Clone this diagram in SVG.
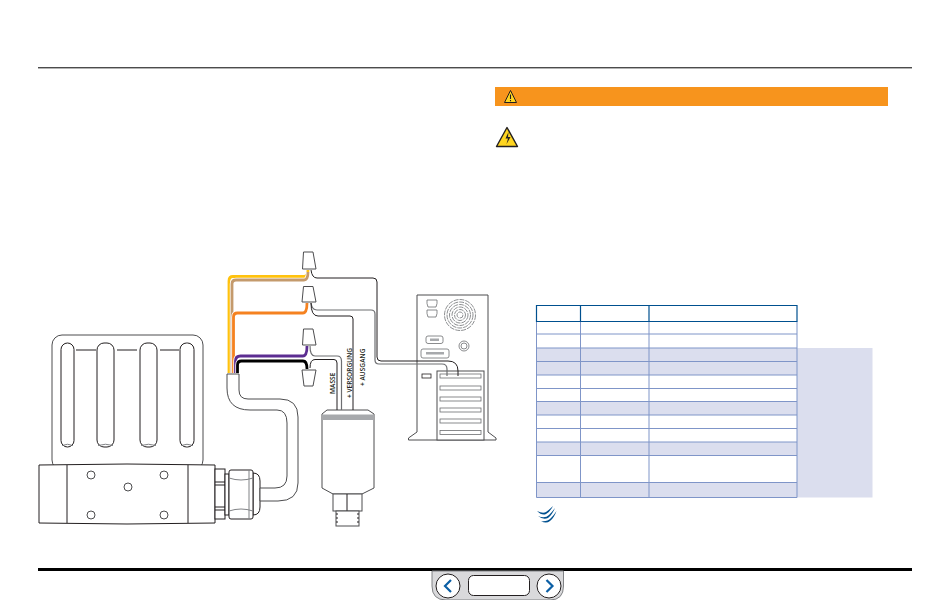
<svg xmlns="http://www.w3.org/2000/svg" width="950" height="600" viewBox="0 0 950 600">
<style>
.o{fill:#fff;stroke:#231f20;stroke-width:1}
.g{fill:#fff;stroke:#4d4d4f;stroke-width:1}
.n{fill:none;stroke:#231f20;stroke-width:1}
.gw{fill:none;stroke:#6d6e71;stroke-width:1.2}
.h{fill:none;stroke:#fff;stroke-width:4.4}
.w{fill:none;stroke-width:2.8}
.lb{font-family:"Open Sans","Liberation Sans",sans-serif;font-size:6.6px;font-weight:600;fill:#231f20}
.tr{fill:none;stroke:#7f95c8;stroke-width:1}
.th{fill:none;stroke:#00508f;stroke-width:1.2}
.sh{fill:#dbdeee}
.sw{fill:#00508f;stroke:none}
</style>
<rect width="950" height="600" fill="#fff"/>
<g id="page-frame">
<line x1="38" y1="67.800" x2="912" y2="67.800" stroke="#000" stroke-width="1"/>
<line x1="38" y1="569.500" x2="912" y2="569.500" stroke="#000" stroke-width="3"/>
</g>
<g id="warning-bar">
<rect x="495" y="87" width="393" height="19" fill="#f7941d"/>
<path d="M510.500 90.500L516.500 102.500H504.500Z" fill="#ffd520" stroke="#231f20" stroke-width="1" stroke-linejoin="round"/>
<path d="M510.500 94.500V99M510.500 100V101.300" stroke="#231f20" stroke-width="1.100" fill="none"/>
</g>
<g id="electric-warning">
<path d="M507 127.500L517.500 146.500H496.500Z" fill="#ffd520" stroke="#231f20" stroke-width="1.400" stroke-linejoin="round"/>
<path d="M508.500 132L505.500 138.500H508L506.500 144L510.500 137H508Z" fill="#231f20"/>
</g>
<g id="valve">
<rect class="g" x="52" y="335" width="151" height="135" rx="10"/>
<path class="n" d="M76 350H96M117 350H137M160 350H179"/>
<g class="o">
<rect x="61" y="343" width="13" height="104" rx="6.500"/>
<rect x="97" y="343" width="17" height="104" rx="7"/>
<rect x="140" y="343" width="17" height="104" rx="7"/>
<rect x="180" y="343" width="14" height="104" rx="6.500"/>
</g>
<path fill="none" stroke="#808285" d="M62 445.500Q67.500 443 73 445.500M98 445.500Q105.500 443 113 445.500M141 445.500Q148.500 443 156 445.500M181 445.500Q187 443 193 445.500"/>
<path class="o" d="M39 465Q127 463 215 465V523Q127 525 39 523Z"/>
<path class="n" d="M67 465V523M188 465V523"/>
<circle class="g" cx="91" cy="475" r="4"/>
<circle class="g" cx="164" cy="475" r="4"/>
<circle class="g" cx="128" cy="487" r="4"/>
<circle class="g" cx="91" cy="515" r="4"/>
<circle class="g" cx="164" cy="515" r="4"/>
<rect class="o" x="215" y="469" width="10" height="50"/>
<path class="n" d="M215 482H225M215 485H225M215 507H225M215 510H225"/>
<rect class="o" x="225" y="474" width="4" height="41"/>
<path class="o" d="M253 473Q260 473 260 481V507Q260 515 253 515Z"/>
<rect class="o" x="229" y="470" width="24" height="49" rx="2"/>
<path fill="none" stroke="#808285" d="M229 478Q241 482 253 478M229 511Q241 507 253 511M249 470V519"/>
</g>
<g id="cable">
<path class="g" d="M227 374V388Q227 410 250 410H277Q287 410 287 423V476Q287 488 275 488H260V501H278Q298 501 298 483V417Q298 399 280 399H248Q239 399 239 390V374Z"/>
</g>
<g id="computer">
<path class="g" d="M417 295H488V432L496 438V440H408.500V438L417 432Z"/>
<rect class="g" x="437" y="371" width="47" height="69"/>
<g fill="#fff" stroke="#6d6e71" stroke-width="0.800">
<rect x="440" y="374" width="41" height="4"/>
<rect x="440" y="386" width="41" height="4"/>
<rect x="440" y="397" width="41" height="4"/>
<rect x="440" y="408" width="41" height="4"/>
<rect x="440" y="419" width="41" height="4"/>
<rect x="440" y="430.500" width="41" height="4"/>
<rect x="422" y="374" width="9" height="4" stroke="#231f20"/>
<rect x="426" y="336" width="17" height="7.500" rx="2"/>
<rect x="421" y="349" width="28" height="9" rx="2"/>
<circle cx="464" cy="346" r="5"/>
<circle cx="464" cy="346" r="3"/>
<path d="M427 300H437V303.500L436 307H428L427 303.500Z"/>
<path d="M427 310H437V313.500L436 317H428L427 313.500Z"/>
<rect x="430" y="338.500" width="9" height="2.500" fill="#a7a9ac" stroke="none"/>
<rect x="426" y="352" width="18" height="2.500" fill="#a7a9ac" stroke="none"/>
</g>
<g fill="none" stroke="#808285" stroke-width="0.900" stroke-dasharray="5 1">
<circle cx="460" cy="315" r="15.500"/>
<circle cx="460" cy="315" r="13"/>
<circle cx="460" cy="315" r="10.500"/>
<circle cx="460" cy="315" r="8"/>
<circle cx="460" cy="315" r="5.500"/>
<circle cx="460" cy="315" r="3"/>
</g>
</g>
<g id="sensor">
<path class="g" d="M322 414L327 410H368L374 414V488L362 494H333L322 488Z"/>
<rect x="322" y="414.500" width="52" height="5.500" fill="#a7a9ac"/>
<rect class="g" x="333" y="494" width="29" height="17"/>
<line class="n" x1="347" y1="494" x2="347" y2="511"/>
<rect class="g" x="336" y="511" width="23" height="15"/>
<path class="n" stroke-dasharray="2 19" d="M336 514H359M336 518H359M336 522H359"/>
</g>
<g id="connectors">
<path class="n" d="M311 270Q312 278 317 278H373Q377 278 377 282V357Q377 361 381 361H448Q458 361 458 371V376"/>
<path class="gw" d="M311 303Q312 310 317 310H371Q375 310 375 314V360Q375 364 379 364H442Q447 364 447 369V376"/>
<path class="n" d="M311 303Q311 316 318 316H350Q353 316 353 319V410"/>
<path class="gw" d="M310 346Q310 356 315 356H337Q341.500 356 341.500 361V410"/>
<path class="n" d="M310 368Q310 359.500 315 359.500H334Q337 359.500 337 363V410"/>
<path class="h" d="M229 373V281Q229 276.500 233 276.500H304Q308 276.500 308 270"/>
<path class="w" stroke="#ffc20e" d="M229 373V281Q229 276.500 233 276.500H304Q308 276.500 308 270"/>
<path class="h" d="M232 373V284Q232 280 236 280H304Q308 280 308 272"/>
<path class="w" stroke="#c49a6c" d="M232 373V284Q232 280 236 280H304Q308 280 308 272"/>
<path class="h" d="M233.500 373V317Q233.500 313 237.500 313H303Q307 313 307 303"/>
<path class="w" stroke="#f58220" d="M233.500 373V317Q233.500 313 237.500 313H303Q307 313 307 303"/>
<path class="h" d="M235.500 373V361Q235.500 356 240.500 356H303Q307 356 307 346"/>
<path class="w" stroke="#5c2d91" d="M235.500 373V361Q235.500 356 240.500 356H303Q307 356 307 346"/>
<path class="h" d="M237.500 373V365Q237.500 361 241.500 361H303Q307 361 307 369"/>
<path class="w" stroke="#000" d="M237.500 373V365Q237.500 361 241.500 361H303Q307 361 307 369"/>
</g>
<g id="wire-nuts">
<path class="g" d="M303.500 252H313L316 269H302.500Z"/>
<path class="g" d="M303.500 286.500H313L316 302H302Z"/>
<path class="g" d="M303.500 329H313L316 345H302.500Z"/>
<path class="g" d="M302 370H316L313 386H304Z"/>
</g>
<g id="labels">
<text class="lb" transform="translate(335,394) rotate(-90)">MASSE</text>
<text class="lb" transform="translate(351.500,398) rotate(-90)">+ VERSORGUNG</text>
<text class="lb" transform="translate(364.500,386) rotate(-90)">+ AUSGANG</text>
</g>
<g id="table">
<rect class="sh" x="797" y="348" width="75.500" height="149.500"/>
<rect class="sh" x="536.500" y="348" width="260.500" height="27"/>
<rect class="sh" x="536.500" y="401.500" width="260.500" height="13.500"/>
<rect class="sh" x="536.500" y="442" width="260.500" height="13.500"/>
<rect class="sh" x="536.500" y="482.500" width="260.500" height="15"/>
<path class="tr" d="M536.500 321.500V497.500M580.500 321.500V497.500M649 321.500V497.500M797 321.500V497.500M536.500 334H797M536.500 348H797M536.500 361.500H797M536.500 375H797M536.500 388.500H797M536.500 401.500H797M536.500 415H797M536.500 428.500H797M536.500 442H797M536.500 455.500H797M536.500 482.500H797M536.500 497.500H797"/>
<path class="th" d="M536.500 305.500H797V321.500H536.500ZM580.500 305.500V321.500M649 305.500V321.500"/>
</g>
<g id="logo">
<path class="sw" d="M537 511Q543 514 546 512Q549 510 553 506Q550 512 546 514Q542 516 537 511Z"/>
<path class="sw" d="M538 516Q545 519 549 515Q552 512 555 508Q552 515 548 518Q543 520 538 516Z"/>
<path class="sw" d="M541 521Q547 522 551 518Q554 515 556.500 511Q554 518 550 521Q546 524 541 521Z"/>
</g>
<g id="nav">
<path d="M432 571H563.500V586Q563.500 600 550 600H446Q432 600 432 586Z" fill="#d9d9db" stroke="#808285" stroke-width="1"/>
<circle cx="448" cy="586" r="12" fill="#fff" stroke="#231f20" stroke-width="1"/>
<circle cx="549" cy="586" r="12" fill="#fff" stroke="#231f20" stroke-width="1"/>
<rect x="468.500" y="575.500" width="61" height="20" rx="5" fill="#fff" stroke="#231f20" stroke-width="1"/>
<path d="M451 580L445 586L451 592" fill="none" stroke="#0b5fa5" stroke-width="2.200"/>
<path d="M546.500 580L552.500 586L546.500 592" fill="none" stroke="#0b5fa5" stroke-width="2.200"/>
</g>
</svg>
